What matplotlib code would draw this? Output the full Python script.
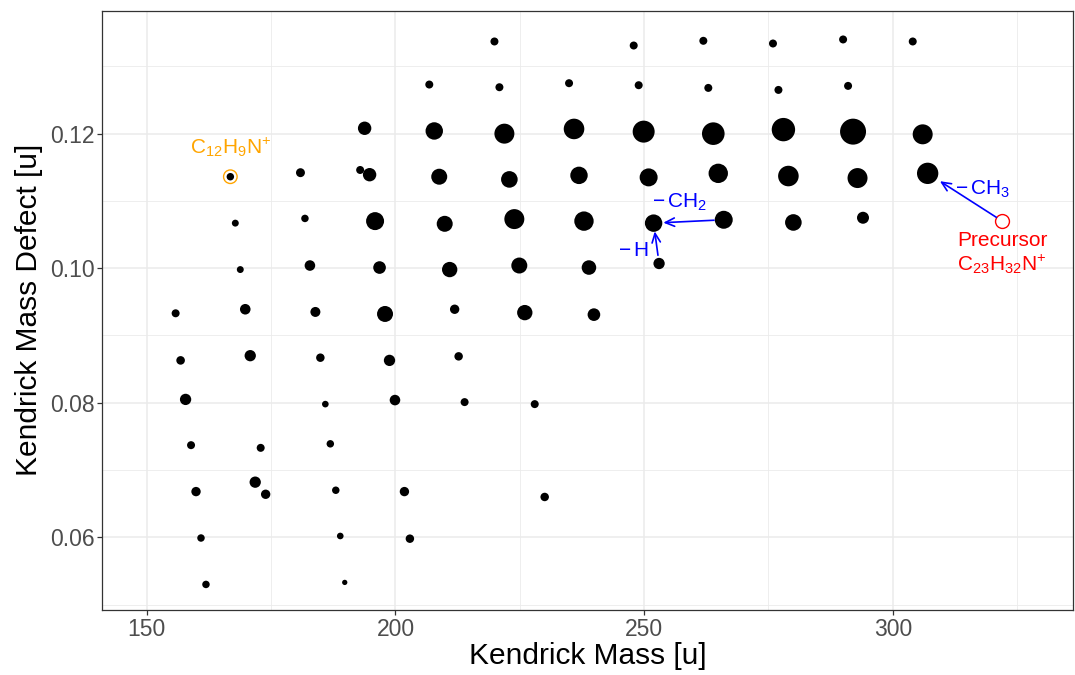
import numpy as np
import matplotlib
matplotlib.use("Agg")
import matplotlib.pyplot as plt

plt.rcParams['font.family'] = ['Liberation Sans', 'DejaVu Sans']
plt.rcParams['mathtext.fontset'] = 'custom'
plt.rcParams['mathtext.rm'] = 'Liberation Sans'
plt.rcParams['mathtext.it'] = 'Liberation Sans:italic'

# Kendrick mass, mass defect and relative intensity of the fragments
km = [155.8, 156.8, 157.8, 158.9, 159.9, 160.9, 161.9,
      166.8, 167.8, 168.8, 169.8, 170.8, 171.8, 172.9, 173.9,
      180.9, 181.8, 182.8, 183.9, 184.9, 185.9, 186.9, 188.0, 188.9, 189.8,
      192.9, 193.8, 194.8, 195.9, 196.8, 197.9, 198.8, 199.9, 201.8, 202.9,
      206.8, 207.8, 208.8, 209.9, 210.9, 211.9, 212.7, 213.9,
      219.9, 220.9, 221.9, 222.9, 223.9, 224.9, 226.0, 228.0, 230.0,
      234.9, 235.9, 236.9, 237.9, 238.9, 239.9,
      247.9, 248.9, 249.9, 250.9, 251.9, 253.0,
      261.9, 262.9, 263.9, 264.9, 266.0,
      275.9, 277.0, 278.0, 279.0, 280.0,
      290.0, 291.0, 292.0, 292.9, 294.0,
      304.0, 306.0, 307.0]
kmd = [0.0933, 0.0863, 0.0805, 0.0737, 0.0668, 0.0599, 0.0530,
       0.1136, 0.1067, 0.0998, 0.0939, 0.0870, 0.0682, 0.0733, 0.0664,
       0.1142, 0.1074, 0.1004, 0.0935, 0.0867, 0.0798, 0.0739, 0.0670, 0.0602, 0.0533,
       0.1146, 0.1208, 0.1139, 0.1070, 0.1001, 0.0932, 0.0863, 0.0804, 0.0668, 0.0598,
       0.1273, 0.1204, 0.1136, 0.1066, 0.0998, 0.0939, 0.0869, 0.0801,
       0.1337, 0.1269, 0.1200, 0.1132, 0.1073, 0.1004, 0.0934, 0.0798, 0.0660,
       0.1275, 0.1207, 0.1138, 0.1070, 0.1001, 0.0931,
       0.1331, 0.1272, 0.1203, 0.1135, 0.1067, 0.1007,
       0.1338, 0.1268, 0.1200, 0.1141, 0.1072,
       0.1334, 0.1265, 0.1206, 0.1137, 0.1068,
       0.1340, 0.1271, 0.1203, 0.1134, 0.1075,
       0.1337, 0.1199, 0.1141]
intensity = [16, 18.5, 32, 16, 22, 14, 14,
             14, 12, 12, 28, 32, 32, 16, 22,
             20, 14, 28, 25, 18, 11, 14, 14, 11, 7,
             16, 45, 45, 81, 40, 64, 32, 28, 22, 18,
             16, 76, 64, 64, 59, 22, 18, 16,
             16, 16, 100, 69, 100, 64, 59, 16, 18,
             16, 106, 76, 94, 53, 40,
             16, 16, 121, 81, 76, 32,
             16, 16, 128, 94, 81,
             16, 16, 137, 106, 69,
             16, 16, 169, 100, 36,
             16, 100, 114]

precursor = (322.0, 0.1070)
c12 = (166.8, 0.1136)

df_x = np.array(km)
df_y = np.array(kmd)
sizes = 2.07 * np.array(intensity)

fig = plt.figure(figsize=(10.75, 6.75), dpi=100)
ax = fig.add_axes([0.0949, 0.0963, 0.9036, 0.8881])

ax.scatter(df_x, df_y, s=sizes, c='black', linewidths=0, zorder=3)

# highlighted fragment and precursor
ax.scatter([c12[0]], [c12[1]], s=95, facecolors='none', edgecolors='#FFA500', linewidths=1.0, zorder=4)
ax.scatter([precursor[0]], [precursor[1]], s=100, facecolors='white', edgecolors='#FF0000', linewidths=1.0, zorder=4)

ax.text(166.9, 0.11703, r'C$_{12}$H$_{9}$N$^{+}$', color='#FFA500', fontsize=15,
        ha='center', va='baseline')
ax.text(322.1, 0.1033, 'Precursor', color='#FF0000', fontsize=15, ha='center', va='baseline')
ax.text(321.9, 0.09968, r'C$_{23}$H$_{32}$N$^{+}$', color='#FF0000', fontsize=15,
        ha='center', va='baseline')

blue = '#0000FF'
astyle = '->,head_length=0.55,head_width=0.25'
# -CH2
ax.annotate('', xy=(251.9, 0.1067), xytext=(266.0, 0.1072),
            arrowprops=dict(arrowstyle=astyle, color=blue, lw=1.2, shrinkA=7, shrinkB=7,
                            mutation_scale=12), zorder=5)
ax.text(257.0, 0.1090, r'$-\,$CH$_{2}$', color=blue, fontsize=15, ha='center', va='baseline')
# -H
ax.annotate('', xy=(251.9, 0.1067), xytext=(253.0, 0.1007),
            arrowprops=dict(arrowstyle=astyle, color=blue, lw=1.2, shrinkA=6, shrinkB=6,
                            mutation_scale=12), zorder=5)
ax.text(250.8, 0.10181, r'$-\,$H', color=blue, fontsize=15, ha='right', va='baseline')
# -CH3
ax.annotate('', xy=(307.0, 0.1141), xytext=precursor,
            arrowprops=dict(arrowstyle=astyle, color=blue, lw=1.2, shrinkA=5, shrinkB=10.5,
                            mutation_scale=12), zorder=5)
ax.text(318.1, 0.1110, r'$-\,$CH$_{3}$', color=blue, fontsize=15, ha='center', va='baseline')

ax.set_xlim(141.0, 336.3)
ax.set_ylim(0.0492, 0.1383)
ax.set_xticks([150, 200, 250, 300])
ax.set_xticks([175, 225, 275, 325], minor=True)
ax.set_yticks([0.06, 0.08, 0.10, 0.12])
ax.set_yticks([0.05, 0.07, 0.09, 0.11, 0.13], minor=True)
ax.set_yticklabels(['0.06', '0.08', '0.10', '0.12'])

ax.grid(True, which='major', color='#EBEBEB', lw=1.1, zorder=0)
ax.grid(True, which='minor', color='#EBEBEB', lw=0.6, zorder=0)
ax.set_axisbelow(True)

for s in ax.spines.values():
    s.set_color('#333333')
    s.set_linewidth(0.9)

ax.tick_params(which='major', length=3.5, width=0.9, color='#333333', labelsize=16.5,
               labelcolor='#4D4D4D', pad=2)
ax.tick_params(which='minor', length=0)

ax.set_xlabel('Kendrick Mass [u]', fontsize=21.5, labelpad=1)
ax.set_ylabel('Kendrick Mass Defect [u]', fontsize=21.5, labelpad=5)

fig.savefig('out.png', dpi=100)
